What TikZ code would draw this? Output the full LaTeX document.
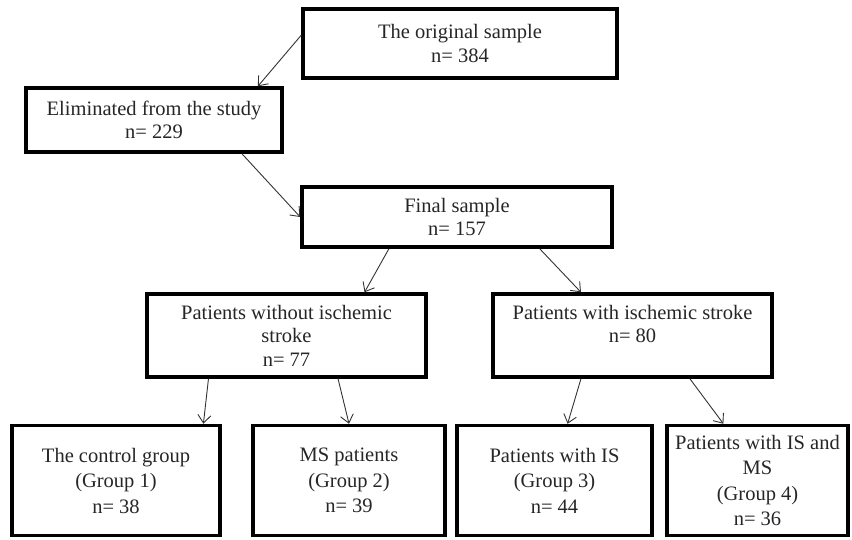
\documentclass[tikz,border=0pt]{standalone}
\usepackage{fontspec}
\setmainfont{Liberation Serif}
\usepackage{tikz}
\usetikzlibrary{arrows.meta, positioning}
\tikzset{
    stagebox/.style={draw=black, line width=3.5pt, align=center, inner sep=0pt,
        text=black!85, font=\fontsize{20.5}{23.5}\selectfont},
    groupbox/.style={stagebox, minimum height=110pt, font=\fontsize{20.5}{25.5}\selectfont},
    flow/.style={-{Straight Barb[length=8pt, width=13pt]}, line width=0.9pt, draw=black!80}
}
\begin{document}
\begin{tikzpicture}[x=1pt, y=-1pt]
    \useasboundingbox (0,0) rectangle (852,539);
    % Sample selection
    \node[stagebox, minimum width=314pt, minimum height=69pt] (orig) at (460,43.5) {The original sample\\ n= 384};
    \node[stagebox, minimum width=256pt, minimum height=64pt] (elim) at (154,120) {Eliminated from the study\\ n= 229};
    \node[stagebox, minimum width=310pt, minimum height=60pt] (final) at (457,217) {Final sample\\ n= 157};
    % Split by stroke
    \node[stagebox, minimum width=279pt, minimum height=83pt] (nostroke) at (286.5,335.5) {Patients without ischemic\\ stroke\\ n= 77};
    \node[stagebox, minimum width=279pt, minimum height=83pt] (stroke) at (632.5,335.5) {Patients with ischemic stroke\\ n= 80\\ \mbox{}};
    % Groups
    \node[groupbox, minimum width=208pt] (grpA) at (116,480.5) {The control group\\ (Group 1)\\ n= 38};
    \node[groupbox, minimum width=192pt] (grpB) at (349,480.5) {MS patients\\ (Group 2)\\ n= 39};
    \node[groupbox, minimum width=195pt] (grpC) at (554.5,480.5) {Patients with IS\\ (Group 3)\\ n= 44};
    \node[groupbox, minimum width=181pt] (grpD) at (757.5,480.5) {Patients with IS and\\ MS\\ (Group 4)\\ n= 36};
    % Arrows
    \draw[flow] (orig.177.6) -- (elim.18);
    \draw[flow] (elim.-21) -- (final.west);
    \draw[flow] (final.205) -- (nostroke.29);
    \draw[flow] (final.339.4) -- (stroke.140);
    \draw[flow] (nostroke.209.5) -- (grpA.33.5);
    \draw[flow] (nostroke.320.6) -- (grpB.north);
    \draw[flow] (stroke.220) -- (grpC.77.3);
    \draw[flow] (stroke.323.2) -- (grpD.121.1);
\end{tikzpicture}
\end{document}
